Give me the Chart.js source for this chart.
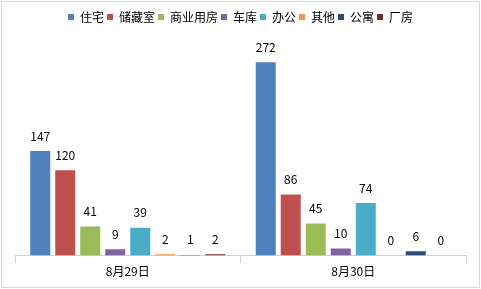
<!DOCTYPE html>
<html>
<head>
<meta charset="utf-8">
<script src="https://cdn.jsdelivr.net/npm/chart.js@4/dist/chart.umd.min.js"></script>
<style>
  html, body { margin: 0; padding: 0; background: #fff; }
  #wrap { width: 481px; height: 289px; position: relative; }
</style>
</head>
<body>
<div id="wrap"><canvas id="chart" width="481" height="289"></canvas></div>
<script>
// categories and series
const dates = ['8月29日', '8月30日'];
const seriesNames = ['住宅', '储藏室', '商业用房', '车库', '办公', '其他', '公寓', '厂房'];
const housing = [147, 272];
const storage = [120, 86];
const commercial = [41, 45];
const garage = [9, 10];
const office = [39, 74];
const other = [2, 0];
const apartment = [1, 6];
const factory = [2, 0];
const seriesValues = [housing, storage, commercial, garage, office, other, apartment, factory];
const palette = ['#4F81BD', '#C0504D', '#9BBB59', '#8064A2', '#4BACC6', '#F79646', '#2C4D75', '#772C2A'];

const FONT = '"Microsoft YaHei", "Noto Sans CJK SC", sans-serif';

// value labels above each bar
const valueLabels = {
    id: 'valueLabels',
    afterDatasetsDraw(chart) {
        const ctx = chart.ctx;
        ctx.save();
        ctx.font = '12px ' + FONT;
        ctx.fillStyle = '#000';
        ctx.textAlign = 'center';
        ctx.textBaseline = 'middle';
        chart.data.datasets.forEach((ds, i) => {
            chart.getDatasetMeta(i).data.forEach((bar, j) => {
                ctx.fillText(String(ds.data[j]), bar.x, bar.y - 15);
            });
        });
        ctx.restore();
    }
};

// thin grey frame round the whole picture
const frame = {
    id: 'frame',
    afterDraw(chart) {
        const ctx = chart.ctx;
        ctx.save();
        ctx.strokeStyle = '#d9d9d9';
        ctx.lineWidth = 1;
        ctx.strokeRect(1.5, 1.5, chart.width - 3, chart.height - 3);
        ctx.restore();
    }
};

new Chart(document.getElementById('chart'), {
    type: 'bar',
    data: {
        labels: dates,
        datasets: seriesNames.map((name, i) => ({
            label: name,
            data: seriesValues[i],
            backgroundColor: palette[i],
            borderWidth: 0,
            categoryPercentage: 0.887,
            barPercentage: 0.8
        }))
    },
    options: {
        responsive: false,
        animation: false,
        devicePixelRatio: 1,
        layout: { padding: { left: 15, right: 15, top: 8, bottom: 8 } },
        plugins: {
            legend: {
                position: 'top',
                labels: {
                    boxWidth: 6,
                    boxHeight: 6,
                    padding: 3,
                    color: '#000',
                    font: { family: FONT, size: 12 }
                }
            },
            tooltip: { enabled: false }
        },
        scales: {
            x: {
                grid: { display: true, drawOnChartArea: false, drawTicks: true, tickLength: 7, color: '#d0d0d0' },
                border: { display: true, color: '#d0d0d0' },
                ticks: { color: '#000', padding: 2, font: { family: FONT, size: 12 } }
            },
            y: {
                display: false,
                min: 0,
                max: 313
            }
        }
    },
    plugins: [valueLabels, frame]
});
</script>
</body>
</html>
